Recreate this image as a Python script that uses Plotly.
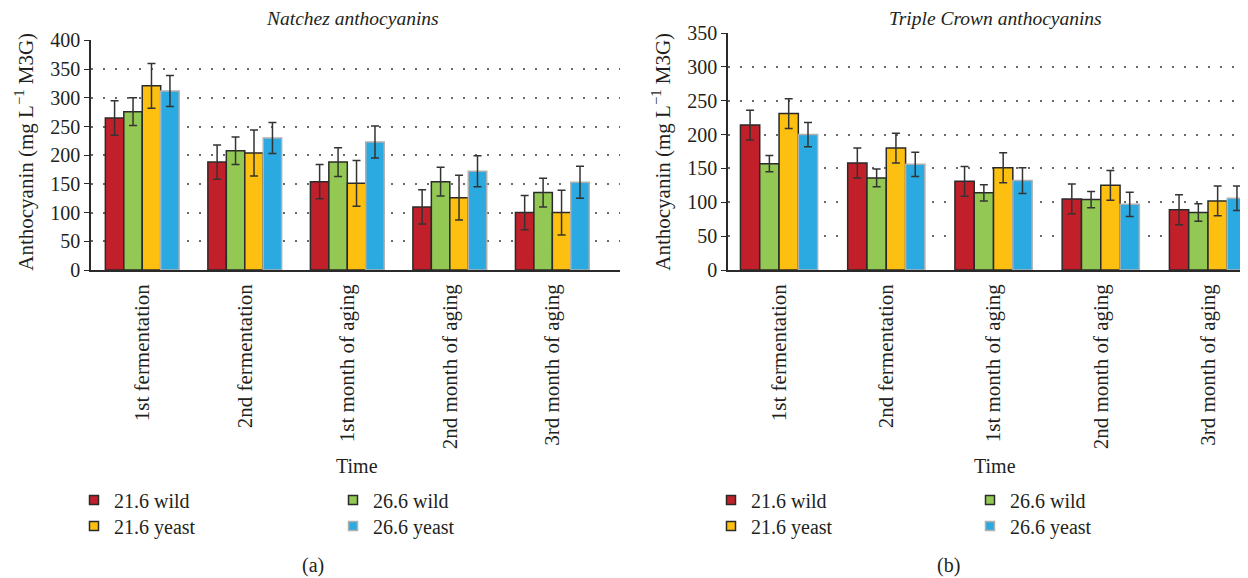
import plotly.graph_objects as go

# ---------------- data ----------------
categories = ["1st fermentation", "2nd fermentation", "1st month of aging",
              "2nd month of aging", "3rd month of aging"]
series_names = ["21.6 wild", "26.6 wild", "21.6 yeast", "26.6 yeast"]

# Natchez (a)
natchez_216_wild = [265, 188, 154, 110, 100]
natchez_266_wild = [276, 208, 188, 154, 135]
natchez_216_yeast = [321, 204, 151, 126, 100]
natchez_266_yeast = [312, 230, 223, 172, 153]
natchez_216_wild_err = [30, 30, 30, 30, 30]
natchez_266_wild_err = [24, 24, 25, 25, 25]
natchez_216_yeast_err = [39, 40, 40, 39, 39]
natchez_266_yeast_err = [27, 27, 28, 27, 28]

# Triple Crown (b)
tc_216_wild = [214, 158, 131, 105, 89]
tc_266_wild = [157, 136, 114, 104, 85]
tc_216_yeast = [231, 180, 151, 125, 102]
tc_266_yeast = [200, 156, 132, 97, 106]
tc_216_wild_err = [22, 22, 22, 22, 22]
tc_266_wild_err = [12, 13, 12, 12, 13]
tc_216_yeast_err = [22, 22, 22, 22, 22]
tc_266_yeast_err = [18, 18, 19, 18, 18]

left_ticks = [0, 50, 100, 150, 200, 250, 300, 350, 400]
right_ticks = [0, 50, 100, 150, 200, 250, 300, 350]

# ---------------- style ----------------
FONT = "Liberation Serif"
TXT = "#231f20"
fills = ["#c1202a", "#92c853", "#fdc010", "#2ba9e1"]
edges = ["#2a2a2a", "#2a2a2a", "#2a2a2a", "#b0b0b0"]

OFF = 8  # page body margin
W, H = 1248 - OFF, 578 - OFF
PLOT_LEFT, PLOT_BOTTOM, PLOT_TOP = 91, 270.5, 33   # page pixels
ML = PLOT_LEFT - OFF
MT = PLOT_TOP - OFF
MB = H - (PLOT_BOTTOM - OFF)
MR = 0
PW = W - ML - MR
PH = H - MT - MB


def px_x(px):
    return (px - OFF - ML) / PW


def px_y(py):
    return (H - MB - (py - OFF)) / PH


fig = go.Figure()

left_vals = [natchez_216_wild, natchez_266_wild, natchez_216_yeast, natchez_266_yeast]
left_errs = [natchez_216_wild_err, natchez_266_wild_err, natchez_216_yeast_err, natchez_266_yeast_err]
right_vals = [tc_216_wild, tc_266_wild, tc_216_yeast, tc_266_yeast]
right_errs = [tc_216_wild_err, tc_266_wild_err, tc_216_yeast_err, tc_266_yeast_err]

left_legends = ["legend", "legend", "legend2", "legend2"]
right_legends = ["legend3", "legend3", "legend4", "legend4"]

for panel, (vals, errs, xa, ya, legs) in enumerate([
        (left_vals, left_errs, "x", "y", left_legends),
        (right_vals, right_errs, "x2", "y2", right_legends)]):
    for i, name in enumerate(series_names):
        fig.add_trace(go.Bar(
            x=categories, y=vals[i], name=name, showlegend=False,
            marker=dict(color=fills[i], line=dict(color=edges[i], width=1.5)),
            error_y=dict(type="data", array=errs[i], visible=True,
                         color="#333333", thickness=1.5, width=4),
            xaxis=xa, yaxis=ya, offsetgroup=str(i),
        ))
    # legend entries (small square keys like the reference)
    for i, name in enumerate(series_names):
        fig.add_trace(go.Scatter(
            x=[None], y=[None], mode="markers", name=name, legend=legs[i],
            marker=dict(symbol="square", size=9, color=fills[i],
                        line=dict(color=edges[i], width=1.5)),
            xaxis=xa, yaxis=ya, hoverinfo="skip",
        ))

xcommon = dict(
    type="category", showline=True, linecolor="#2a2a2a", linewidth=1.5,
    showgrid=False, zeroline=False, tickangle=-90,
    tickfont=dict(family=FONT, size=21, color=TXT),
    ticks="outside", ticklen=4, tickcolor="rgba(0,0,0,0)",
)
ycommon = dict(
    showline=True, linecolor="#2a2a2a", linewidth=1.5, ticks="outside",
    ticklen=5, tickcolor="#2a2a2a", tickwidth=1,
    tickfont=dict(family=FONT, size=20, color=TXT),
    showgrid=True, gridcolor="#6a6a6a", gridwidth=1.5, griddash="2px,10px",
    zeroline=False, dtick=50,
)

left_top = px_y(40.5)

fig.update_layout(
    width=W, height=H,
    margin=dict(l=ML, r=MR, t=MT, b=MB, autoexpand=False),
    paper_bgcolor="white", plot_bgcolor="white",
    font=dict(family=FONT, size=20, color=TXT),
    barmode="group", bargap=0.28, bargroupgap=0,
    xaxis=dict(xcommon, domain=[0, px_x(620)], range=[-0.5, 4.66], anchor="y"),
    yaxis=dict(ycommon, domain=[0, left_top], range=[0, 400],
               tickvals=left_ticks, anchor="x"),
    xaxis2=dict(xcommon, domain=[px_x(728), 1], range=[-0.476, 4.373], anchor="y2"),
    yaxis2=dict(ycommon, domain=[0, 1], range=[0, 350],
                tickvals=right_ticks, anchor="x2"),
    showlegend=True,
)

leg_common = dict(orientation="h", xanchor="left", yanchor="middle",
                  font=dict(family=FONT, size=20, color=TXT),
                  entrywidth=214, entrywidthmode="pixels",
                  bgcolor="rgba(0,0,0,0)", borderwidth=0, itemclick=False)
fig.update_layout(
    legend=dict(leg_common, x=px_x(74), y=px_y(501)),
    legend2=dict(leg_common, x=px_x(74), y=px_y(527)),
    legend3=dict(leg_common, x=px_x(711), y=px_y(501)),
    legend4=dict(leg_common, x=px_x(711), y=px_y(527)),
)

annos = [
    dict(text="<i>Natchez anthocyanins</i>", x=px_x(352), y=px_y(18), size=19.5),
    dict(text="<i>Triple Crown anthocyanins</i>", x=px_x(995), y=px_y(18), size=19.5),
    dict(text="Time", x=px_x(357), y=px_y(467), size=20),
    dict(text="Time", x=px_x(995), y=px_y(467), size=20),
    dict(text="(a)", x=px_x(313), y=px_y(567), size=20),
    dict(text="(b)", x=px_x(948), y=px_y(567), size=20),
]
for a in annos:
    fig.add_annotation(text=a["text"], x=a["x"], y=a["y"], xref="paper", yref="paper",
                       xanchor="center", yanchor="middle", showarrow=False,
                       font=dict(family=FONT, size=a["size"], color=TXT))

ytitle = "Anthocyanin (mg L<sup>−1</sup> M3G)"
for xc in (25, 662):
    fig.add_annotation(text=ytitle, x=px_x(xc), y=px_y(152), xref="paper", yref="paper",
                       xanchor="center", yanchor="middle", showarrow=False, textangle=-90,
                       font=dict(family=FONT, size=21, color=TXT))

fig.write_html("out.html")
